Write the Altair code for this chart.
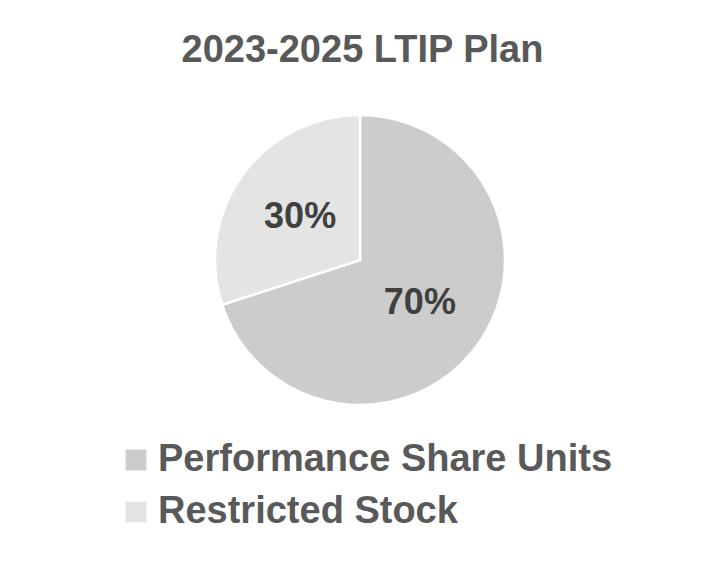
import altair as alt
import pandas as pd

categories = ["Performance Share Units", "Restricted Stock"]
values = [70, 30]
labels = ["70%", "30%"]
colors = ["#cccccc", "#e4e4e4"]

df = pd.DataFrame({"category": categories, "value": values, "label": labels, "order": [0, 1]})

CX, CY = 352, 162
FONT = "Liberation Sans"

base = alt.Chart(df).encode(
    theta=alt.Theta("value:Q", stack=True),
    order=alt.Order("order:Q"),
)

pie = base.mark_arc(outerRadius=145, x=CX, y=CY, stroke="white", strokeWidth=2.5).encode(
    color=alt.Color(
        "category:N",
        scale=alt.Scale(domain=categories, range=colors),
        sort=categories,
        legend=alt.Legend(
            title=None,
            orient="none",
            legendX=109,
            legendY=343,
            symbolType="square",
            symbolSize=430,
            symbolStrokeWidth=0,
            labelFont=FONT,
            labelFontSize=38,
            labelFontWeight="bold",
            labelColor="#595959",
            labelOffset=3,
            rowPadding=14,
            padding=0,
            labelLimit=600,
        ),
    )
)

text = base.mark_text(
    radius=74, x=CX, y=CY, font=FONT, fontSize=36, fontWeight="bold", color="#404040"
).encode(text="label:N")

chart = (
    alt.layer(pie, text)
    .properties(
        width=709,
        height=463,
        autosize=alt.AutoSizeParams(type="none"),
        padding={"left": 0, "top": 90, "right": 0, "bottom": 0},
        title=alt.Title(
            "2023-2025 LTIP Plan",
            font=FONT,
            fontSize=38,
            fontWeight="bold",
            color="#595959",
            anchor="middle",
            offset=28,
        ),
    )
    .configure_view(stroke=None)
)

chart.save("out.html", embed_options={"renderer": "svg", "actions": False})
